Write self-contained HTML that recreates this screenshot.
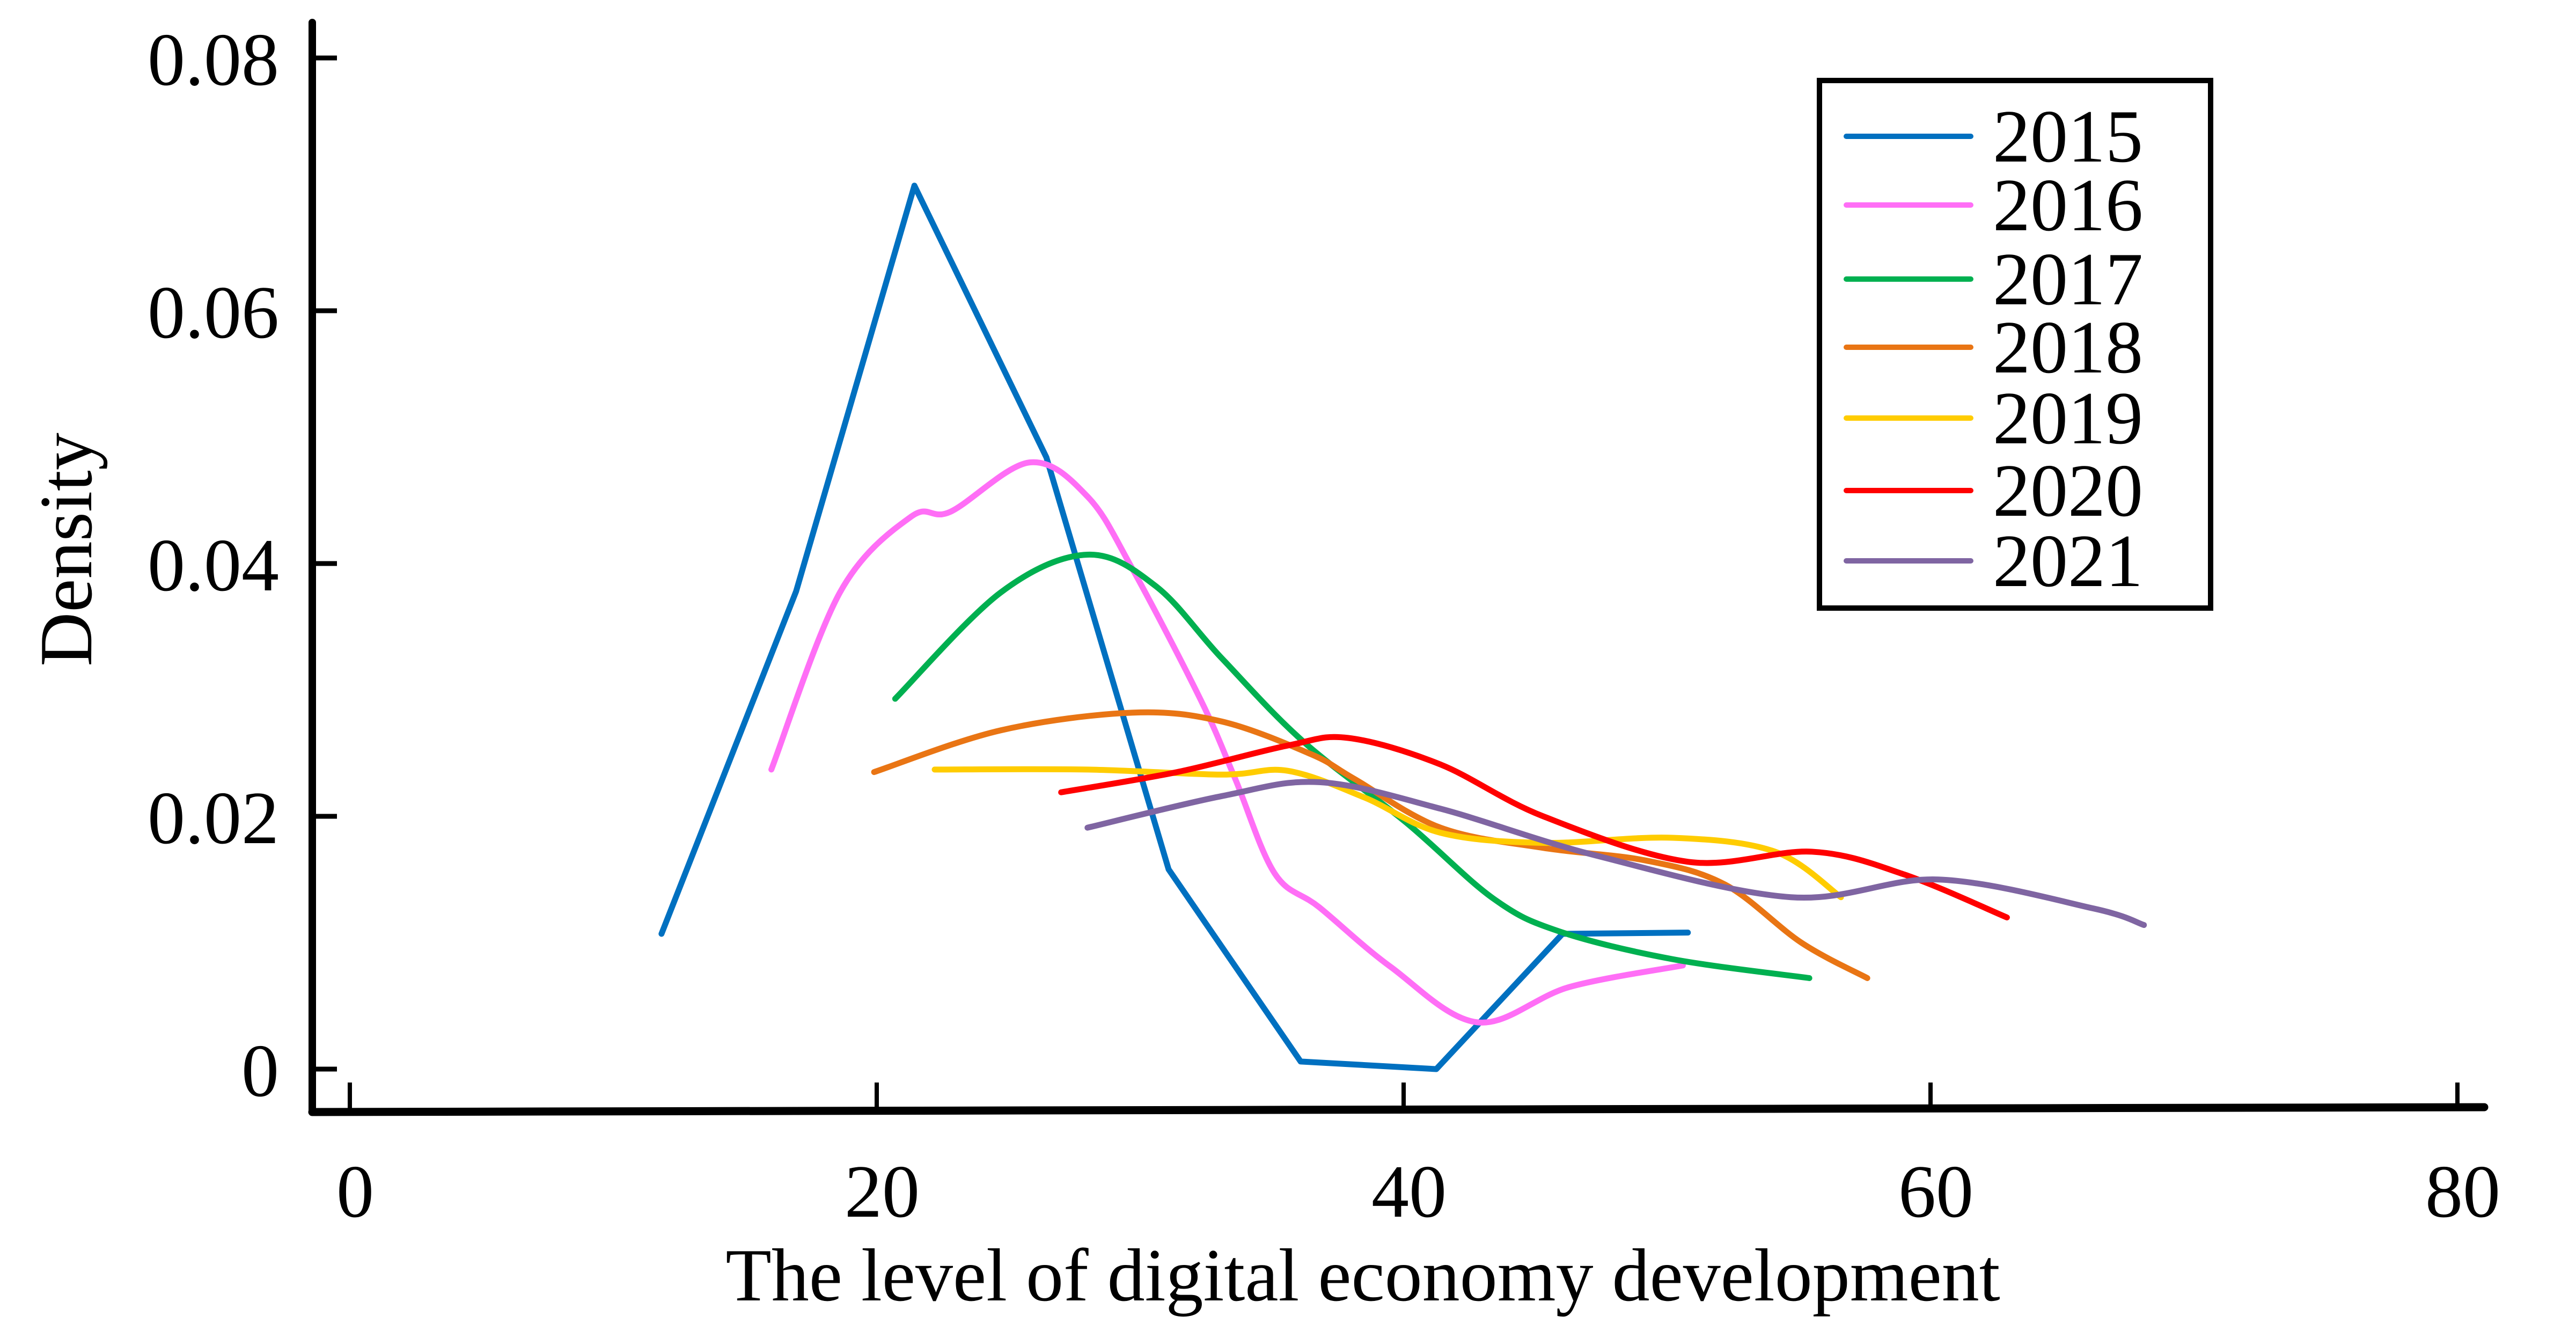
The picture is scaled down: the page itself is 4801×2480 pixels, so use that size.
<!DOCTYPE html>
<html><head><meta charset="utf-8"><style>
html,body{margin:0;padding:0;background:#fff;}
svg text{font-family:"Liberation Serif","Times New Roman",serif;fill:#000;}
</style></head><body>
<svg id="chart" width="4801" height="2475" viewBox="0 0 4801 2475" xmlns="http://www.w3.org/2000/svg">
<rect width="4801" height="2475" fill="#fff"/>
<g id="axes"></g>
<g id="series"></g>
<g id="legend"></g>
</svg>
<script>
const xTicks = [0, 20, 40, 60, 80];
const yTicks = [0, 0.02, 0.04, 0.06, 0.08];
const yTickLabels = ["0", "0.02", "0.04", "0.06", "0.08"];
const seriesNames = ["2015","2016","2017","2018","2019","2020","2021"];
const seriesColors = ["#0070C0","#FF6EF6","#00B050","#E97514","#FFCC00","#FF0000","#7F65A2"];
const s2015x = [11.83,16.94,21.43,26.44,31.08,36.09,41.24,46.03,50.79];
const s2015y = [0.0107,0.0378,0.0699,0.0484,0.0158,0.0006,0.0000,0.0107,0.0108];
const s2016x = [16.0,18.6,21.3,22.8,25.8,28.0,29.7,32.3,33.6,35.1,36.8,39.5,42.8,46.3,50.6];
const s2016y = [0.0237,0.0377,0.0437,0.0441,0.0480,0.0453,0.0396,0.0292,0.0230,0.0155,0.0128,0.0081,0.0037,0.0065,0.0082];
const s2017x = [20.7,24.7,28.0,30.6,33.1,36.2,40.1,43.4,45.9,50.2,55.4];
const s2017y = [0.0293,0.0377,0.0407,0.0382,0.0325,0.0259,0.0195,0.0135,0.0109,0.0087,0.0072];
const s2018x = [19.9,24.7,29.7,33.1,36.5,38.1,41.4,45.3,49.2,52.2,55.1,57.6];
const s2018y = [0.0235,0.0268,0.0282,0.0275,0.0249,0.0230,0.0191,0.0175,0.0165,0.0146,0.0100,0.0072];
const s2019x = [22.2,28.0,33.1,35.6,38.5,41.4,45.3,50.2,54.1,56.6];
const s2019y = [0.0237,0.0237,0.0233,0.0236,0.0215,0.0187,0.0179,0.0183,0.0172,0.0136];
const s2020x = [27.0,31.4,35.6,37.9,41.4,45.3,50.8,55.5,59.0,62.9];
const s2020y = [0.0219,0.0235,0.0256,0.0262,0.0241,0.0200,0.0164,0.0172,0.0154,0.0120];
const s2021x = [28.0,33.1,36.8,41.4,47.3,54.7,60.3,66.2,68.1];
const s2021y = [0.0191,0.0216,0.0227,0.0206,0.0169,0.0136,0.0150,0.0127,0.0114];
const seriesX = [s2015x,s2016x,s2017x,s2018x,s2019x,s2020x,s2021x];
const seriesY = [s2015y,s2016y,s2017y,s2018y,s2019y,s2020y,s2021y];
const smoothFlags = [false,true,true,true,true,true,true];

const NS = "http://www.w3.org/2000/svg";
function xs(v){ return 652 + v * 49.1; }
function ys(v){ return 1992 - v / 0.02 * 471; }
function mk(tag, attrs, parent){
  const e = document.createElementNS(NS, tag);
  for (const k in attrs) e.setAttribute(k, attrs[k]);
  parent.appendChild(e); return e;
}
const axes = document.getElementById('axes');
const yAxis = mk('line',{x1:582,y1:42,x2:582,y2:2072,stroke:'#000','stroke-width':14,'stroke-linecap':'round'},axes);


const xAxis = mk('line',{x1:582,y1:2072,x2:4630,y2:2063,stroke:'#000','stroke-width':15,'stroke-linecap':'round'},axes);


yTicks.forEach((t,i)=>{
  const y = ys(t);
  const tk = mk('line',{x1:582,y1:y,x2:628,y2:y,stroke:'#000','stroke-width':9},axes);
  
  
  const tx = mk('text',{x:520,y:y+50,'font-size':140,'text-anchor':'end'},axes);
  tx.textContent = yTickLabels[i];
  
  
});
xTicks.forEach(t=>{
  const x = xs(t);
  const tk = mk('line',{x1:x,y1:2017,x2:x,y2:2068,stroke:'#000','stroke-width':8},axes);
  
  
  const tx = mk('text',{x:x+10,y:2267,'font-size':140,'text-anchor':'middle'},axes);
  tx.textContent = String(t);
  
  
});
const xt = mk('text',{x:2540,y:2423,'font-size':140,'text-anchor':'middle'},axes);
xt.textContent = 'The level of digital economy development';


const yt = mk('text',{x:170,y:1024,'font-size':140,'text-anchor':'middle',transform:'rotate(-90 170 1024)'},axes);
yt.textContent = 'Density';



function pathFor(px, py, smooth){
  const P = px.map((v,i)=>[xs(v), ys(py[i])]);
  let d = 'M' + P[0][0] + ' ' + P[0][1];
  if (!smooth){ for (let i=1;i<P.length;i++) d += ' L' + P[i][0] + ' ' + P[i][1]; return d; }
  for (let i=0;i<P.length-1;i++){
    const p0 = P[Math.max(0,i-1)], p1 = P[i], p2 = P[i+1], p3 = P[Math.min(P.length-1,i+2)];
    const c1x = p1[0] + (p2[0]-p0[0])/6, c1y = p1[1] + (p2[1]-p0[1])/6;
    const c2x = p2[0] - (p3[0]-p1[0])/6, c2y = p2[1] - (p3[1]-p1[1])/6;
    d += ' C' + c1x + ' ' + c1y + ' ' + c2x + ' ' + c2y + ' ' + p2[0] + ' ' + p2[1];
  }
  return d;
}
const sg = document.getElementById('series');
seriesNames.forEach((n,i)=>{
  const p = mk('path',{d:pathFor(seriesX[i],seriesY[i],smoothFlags[i]),fill:'none',stroke:seriesColors[i],'stroke-width':11,'stroke-linecap':'round','stroke-linejoin':'round'},sg);
  
  
});
const lg = document.getElementById('legend');
const box = mk('rect',{x:3391,y:150,width:729,height:983,fill:'#fff',stroke:'#000','stroke-width':10},lg);


const legY = [254,382,520,647,779,914,1045];
seriesNames.forEach((n,i)=>{
  const l = mk('line',{x1:3441,y1:legY[i],x2:3673,y2:legY[i],stroke:seriesColors[i],'stroke-width':10,'stroke-linecap':'round'},lg);
  
  
  const t = mk('text',{x:3714,y:legY[i]+47,'font-size':140},lg);
  t.textContent = n;
  
  
});
</script>
</body></html>
